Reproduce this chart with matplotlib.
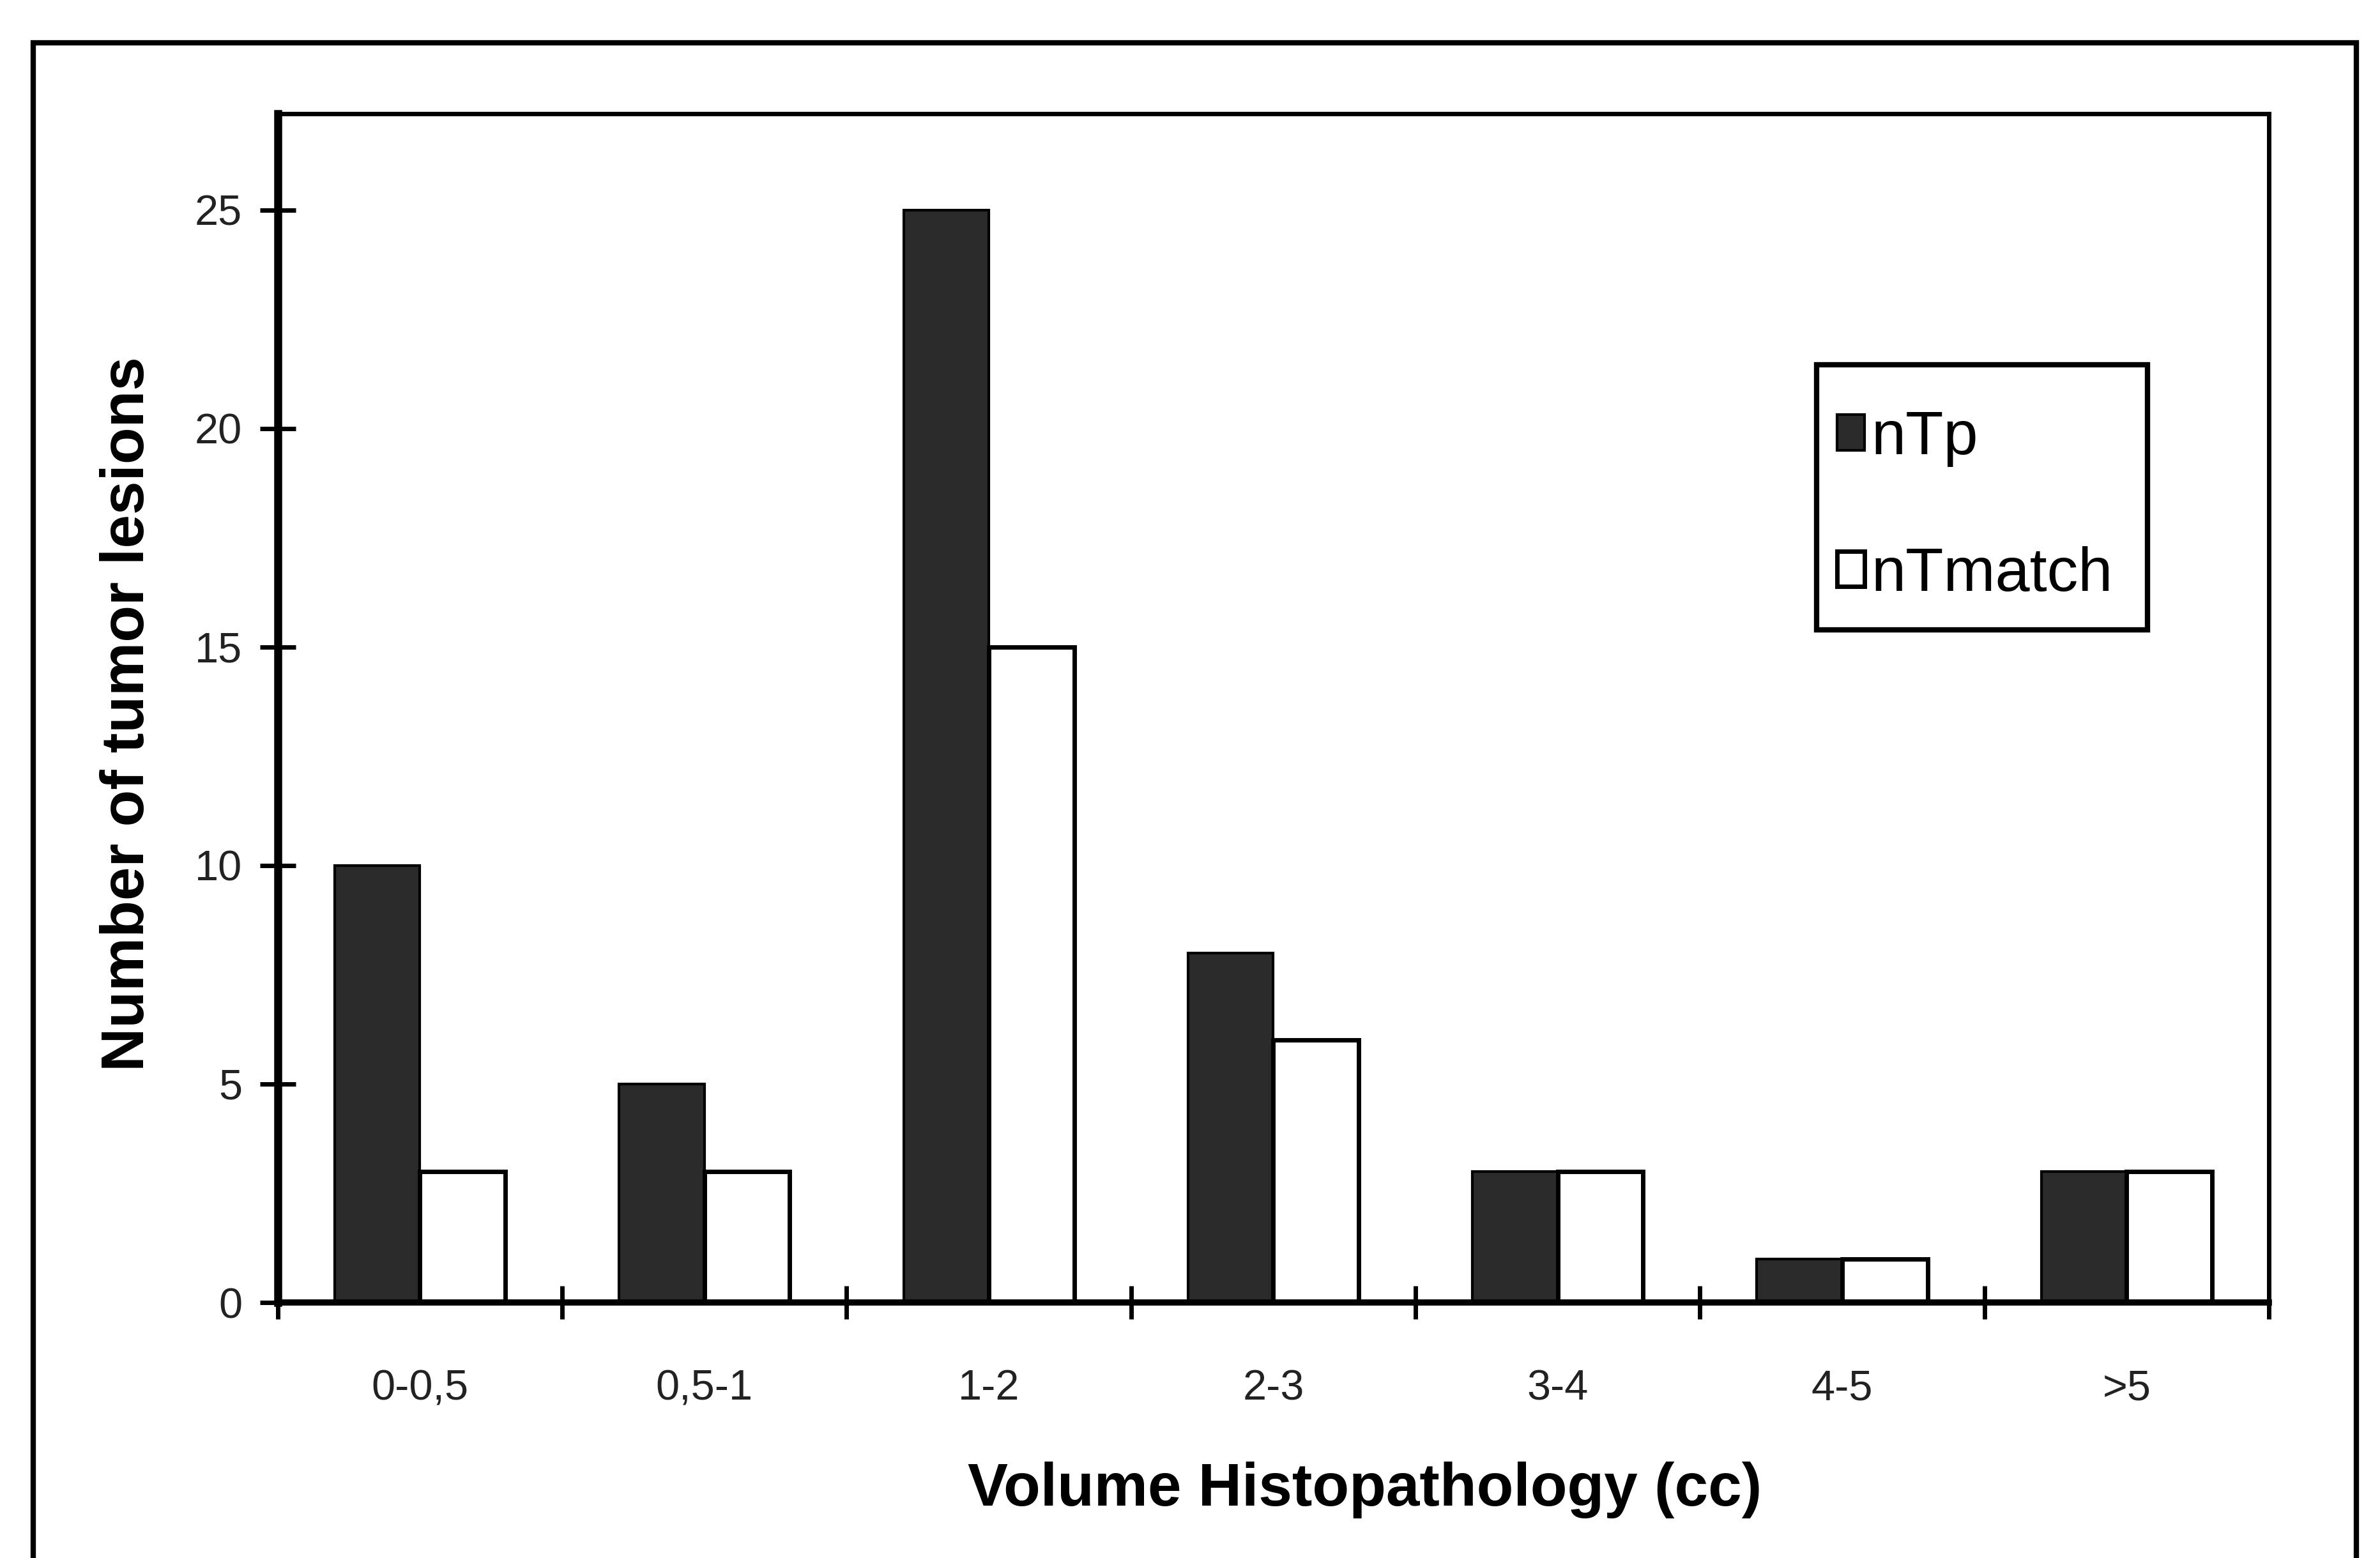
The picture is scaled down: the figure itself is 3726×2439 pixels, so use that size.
import matplotlib
matplotlib.use("Agg")
import matplotlib.pyplot as plt
import numpy as np
from matplotlib.patches import Rectangle

categories = ["0-0,5", "0,5-1", "1-2", "2-3", "3-4", "4-5", ">5"]
nTp = [10, 5, 25, 8, 3, 1, 3]
nTmatch = [3, 3, 15, 6, 3, 1, 3]
yticks = [0, 5, 10, 15, 20, 25]

plt.rcParams['font.family'] = ['Liberation Sans', 'DejaVu Sans']

fig = plt.figure(figsize=(37.26, 24.39), dpi=100)
ax = fig.add_axes([0.1167, 0.164, 0.8366, 0.763])

x = np.arange(len(categories))
w = 0.30
ax.bar(x - w / 2, nTp, width=w, color='#2b2b2b', edgecolor='black', linewidth=3, label='nTp')
ax.bar(x + w / 2, nTmatch, width=w, color='white', edgecolor='black', linewidth=5, label='nTmatch')

ax.set_xlim(-0.5, len(categories) - 0.5)
ax.set_ylim(0, 27.2)
ax.set_yticks(yticks)
ax.set_yticklabels([str(v) for v in yticks], fontsize=48, color='#222222')
ax.set_xticks(np.arange(len(categories) + 1) - 0.5)
ax.set_xticklabels([])
ax.set_xticks(x, minor=True)
ax.set_xticklabels(categories, minor=True, fontsize=48, color='#222222')
ax.tick_params(axis='x', which='minor', length=0, pad=75)
ax.tick_params(axis='x', which='major', direction='inout', length=38, width=5)
ax.tick_params(axis='y', direction='inout', length=40, width=5, pad=20)

for side, lw in [('left', 9), ('bottom', 7), ('top', 5), ('right', 5)]:
    ax.spines[side].set_linewidth(lw)
    ax.spines[side].set_color('black')

ax.set_ylabel('Number of tumor lesions', fontsize=68, fontweight='bold')
ax.set_xlabel('Volume Histopathology (cc)', fontsize=68, fontweight='bold')
ax.yaxis.set_label_coords(-0.061, 0.495)
ax.xaxis.set_label_coords(0.546, -0.134)

leg = ax.legend(loc='upper left', bbox_to_anchor=(0.783, 0.751), fontsize=70,
                frameon=False, handlelength=0.45, handleheight=0.5, handletextpad=0.1,
                labelspacing=1.27, borderpad=0, borderaxespad=0)
ax.add_patch(Rectangle((0.773, 0.566), 0.166, 0.223, transform=ax.transAxes,
                       fill=False, edgecolor='black', linewidth=6, zorder=5))

fig.patches.append(Rectangle((0.014, -0.05), 0.976, 1.0225, transform=fig.transFigure,
                             fill=False, edgecolor='black', linewidth=6))

fig.savefig('out.png', dpi=100, facecolor='white')
